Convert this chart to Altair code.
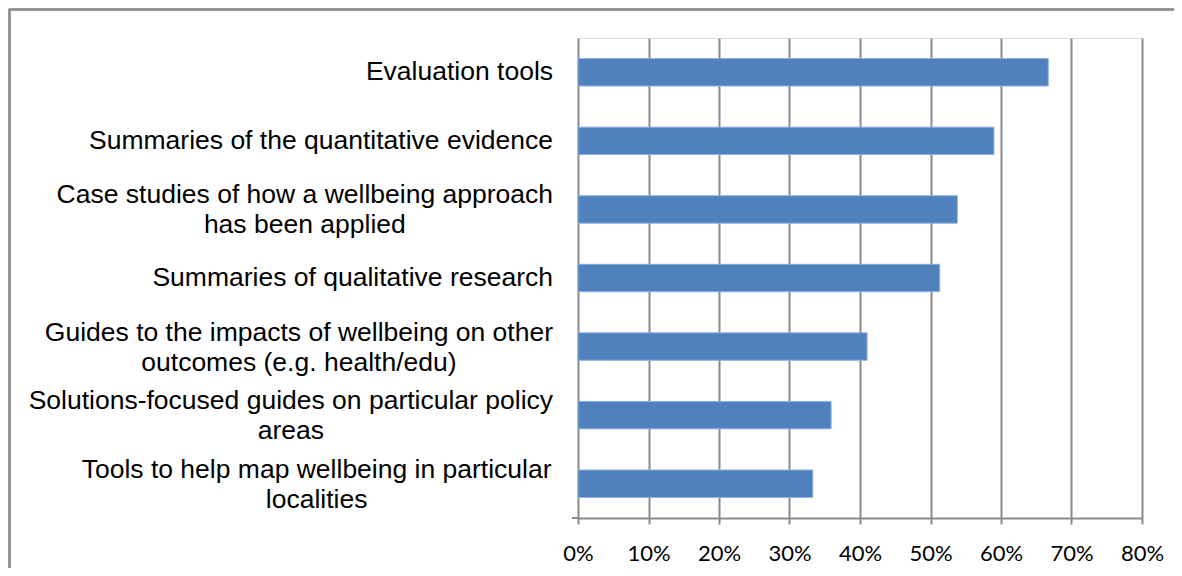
import altair as alt
import pandas as pd

# ---- data ----
categories = [
    "Evaluation tools",
    "Summaries of the quantitative evidence",
    "Case studies of how a wellbeing approach\nhas been applied",
    "Summaries of qualitative research",
    "Guides to the impacts of wellbeing on other\noutcomes (e.g. health/edu)",
    "Solutions-focused guides on particular policy\nareas",
    "Tools to help map wellbeing in particular\nlocalities",
]
values = [0.667, 0.590, 0.538, 0.513, 0.410, 0.359, 0.333]
x_ticks = [0.0, 0.1, 0.2, 0.3, 0.4, 0.5, 0.6, 0.7, 0.8]

# ---- layout / style ----
W, H = 564, 480
LABEL_FONT = 26.5
LINE_H = 30
LABEL_GAP = 25
GRID = "#8a8a8a"
BAR = "#4f81bd"

# Arial / Liberation Sans advance widths (per 1000 em) used to centre multi-line labels
ARIAL = {
    " ": 278, "(": 333, ")": 333, ".": 278, "/": 278, "-": 333,
    "A": 667, "C": 722, "E": 667, "G": 778, "S": 667, "T": 611,
    "a": 556, "b": 556, "c": 500, "d": 556, "e": 556, "f": 278, "g": 556,
    "h": 556, "i": 222, "j": 222, "k": 500, "l": 222, "m": 833, "n": 556,
    "o": 556, "p": 556, "q": 556, "r": 333, "s": 500, "t": 278, "u": 556,
    "v": 500, "w": 722, "x": 500, "y": 500, "z": 500,
}


def text_width(s):
    return sum(ARIAL.get(c, 556) for c in s) / 1000 * LABEL_FONT


df = pd.DataFrame({"category": categories, "value": values})
df["nlines"] = [len(c.split("\n")) for c in categories]
df["cx"] = [
    -LABEL_GAP - max(text_width(line) for line in c.split("\n")) / 2
    for c in categories
]

y_scale = alt.Scale(paddingInner=0.6, paddingOuter=0.3)
step = H / (len(categories) - 0.6 + 0.6)

bars = alt.Chart(df).mark_bar(
    color=BAR, stroke="#8eaee0", strokeWidth=1
).encode(
    x=alt.X(
        "value:Q",
        scale=alt.Scale(domain=[0, 0.8], nice=False),
        axis=alt.Axis(
            values=x_ticks, format=".0%", title=None,
            grid=True, gridColor=GRID, gridWidth=2,
            domainColor=GRID, domainWidth=2,
            tickColor=GRID, tickWidth=2, tickSize=6,
            labelFont="Lato", labelFontSize=22, labelColor="#000000",
            labelPadding=19, labelFlush=False,
        ),
    ),
    y=alt.Y(
        "category:N", sort=categories, scale=y_scale,
        axis=alt.Axis(
            title=None, labels=False, domainColor=GRID, domainWidth=2,
            tickColor=GRID, tickWidth=2, tickSize=6, tickOffset=-step / 2,
        ),
    ),
)


def label_layer(n, dy):
    return alt.Chart(df).transform_filter(
        alt.datum.nlines == n
    ).mark_text(
        align="center", baseline="middle", lineBreak="\n", lineHeight=LINE_H,
        font="Liberation Sans", fontSize=LABEL_FONT, color="#000000", dy=dy,
    ).encode(
        x=alt.X("cx:Q", scale=None, axis=None),
        y=alt.Y("category:N", sort=categories, scale=y_scale, axis=None),
        text="category:N",
    )


labels1 = label_layer(1, 0)
labels2 = label_layer(2, -LINE_H / 2 + 1)

end_tick = alt.Chart(df).mark_rule(color=GRID, strokeWidth=2).encode(
    x=alt.value(-6), x2=alt.value(0), y=alt.value(H)
)

frame = alt.Chart(df).mark_rect(
    fillOpacity=0, stroke="#8c8c8c", strokeWidth=1.5
).encode(
    x=alt.value(-568.5), x2=alt.value(2000),
    y=alt.value(-28.5), y2=alt.value(2000),
)

chart = alt.layer(frame, bars, labels1, labels2, end_tick).resolve_scale(
    x="independent"
).properties(
    width=W, height=H,
    autosize=alt.AutoSizeParams(type="none"),
    padding={"left": 570, "top": 30, "right": 32, "bottom": 50},
).configure_view(stroke=None).configure(background="white")

chart.save("out.html", embed_options={"renderer": "svg", "actions": False})
